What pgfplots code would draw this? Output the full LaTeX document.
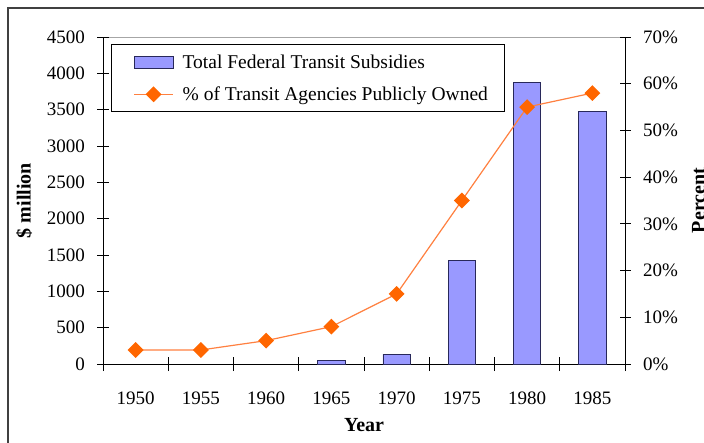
\documentclass[border=0pt]{standalone}
\usepackage{fontspec}
\setmainfont{Liberation Serif}
\usepackage{pgfplots}
\pgfplotsset{compat=1.18}
\definecolor{barfill}{RGB}{153,153,255}
\definecolor{baredge}{RGB}{40,40,90}
\definecolor{lineorange}{RGB}{255,128,64}
\definecolor{markorange}{RGB}{255,102,0}
\newcommand{\tfont}{\fontsize{19}{22}\selectfont}
\newcommand{\lfont}{\fontsize{20}{23}\selectfont\bfseries}
\pgfplotsset{
  barleg/.style={legend image code/.code={\path (0pt,0pt); \draw[##1] (7pt,-6pt) rectangle (46pt,6pt);}},
  lineleg/.style={legend image code/.code={\path (0pt,0pt); \draw[mark repeat=2, mark phase=2, ##1] plot coordinates {(7pt,0pt) (26.5pt,0pt) (46pt,0pt)};}},
}
\begin{document}
\begin{tikzpicture}
\clip (0pt,0pt) rectangle (704pt,442pt);
\path (0pt,0pt) rectangle (704pt,442pt);
\draw[line width=1.3pt, black!75] (8pt,-5pt) -- (8pt,434pt) -- (710pt,434pt);
\draw[gray!70, line width=0.8pt] (103pt,405pt) -- (625pt,405pt);
\begin{axis}[
  at={(103pt,78pt)}, anchor=south west, scale only axis,
  width=522pt, height=327pt,
  xmin=-0.5, xmax=7.5, ymin=0, ymax=4500,
  axis x line*=bottom, axis y line*=left,
  axis line style={line width=0.9pt, -},
  ytick={0,500,...,4500},
  xtick={0,...,7},
  xticklabels={1950,1955,1960,1965,1970,1975,1980,1985},
  major x tick style={draw=none},
  minor xtick={-0.5,0.5,...,7.5},
  minor tick length=14pt, major tick length=11pt,
  tick align=center,
  tick style={line width=0.9pt, black},
  ticklabel style={font=\tfont},
  /pgf/number format/assume math mode=true,
  /pgf/number format/set thousands separator={},
  xticklabel style={yshift=-19pt},
  yticklabel style={xshift=-9pt},
  ylabel={\$ million}, xlabel={Year},
  label style={font=\lfont},
  ylabel style={at={(axis description cs:-0.151,0.5)}, anchor=center},
  xlabel style={at={(axis description cs:0.5,0)}, anchor=center, yshift=-61pt},
  legend cell align=left,
  legend style={at={(0.0153,0.978)}, anchor=north west, draw=black, line width=0.9pt,
    fill=white, font=\fontsize{19.5}{22}\selectfont, inner xsep=15pt, inner ysep=8pt,
    row sep=13pt, column sep=7pt, nodes={inner sep=2pt}},
]
\addplot[ybar, bar width=0.42, fill=barfill, draw=baredge, line width=0.8pt, barleg]
  coordinates {(3,55) (4,135) (5,1430) (6,3880) (7,3470)};
\addlegendentry{Total Federal Transit Subsidies}
\addlegendimage{color=lineorange, line width=1.2pt, mark=square*, mark size=5pt,
  mark options={rotate=45, fill=markorange, draw=markorange}, lineleg}
\addlegendentry{\% of Transit Agencies Publicly Owned}
\end{axis}
\begin{axis}[
  at={(103pt,78pt)}, anchor=south west, scale only axis,
  width=522pt, height=327pt,
  xmin=-0.5, xmax=7.5, ymin=0, ymax=70,
  axis x line=none, axis y line*=right,
  axis line style={line width=0.9pt, -},
  ytick={0,10,...,70},
  yticklabel={\pgfmathprintnumber{\tick}\%},
  major tick length=11pt, tick align=center,
  tick style={line width=0.9pt, black},
  ticklabel style={font=\tfont},
  /pgf/number format/assume math mode=true,
  yticklabel style={xshift=9pt},
  ylabel={Percent},
  label style={font=\lfont},
  ylabel style={at={(axis description cs:1.141,0.5)}, anchor=center},
  clip=false,
]
\addplot[color=lineorange, line width=1.2pt, mark=square*, mark size=5pt,
  mark options={rotate=45, fill=markorange, draw=markorange}]
  coordinates {(0,3) (1,3) (2,5) (3,8) (4,15) (5,35) (6,55) (7,58)};
\end{axis}
\end{tikzpicture}
\end{document}
